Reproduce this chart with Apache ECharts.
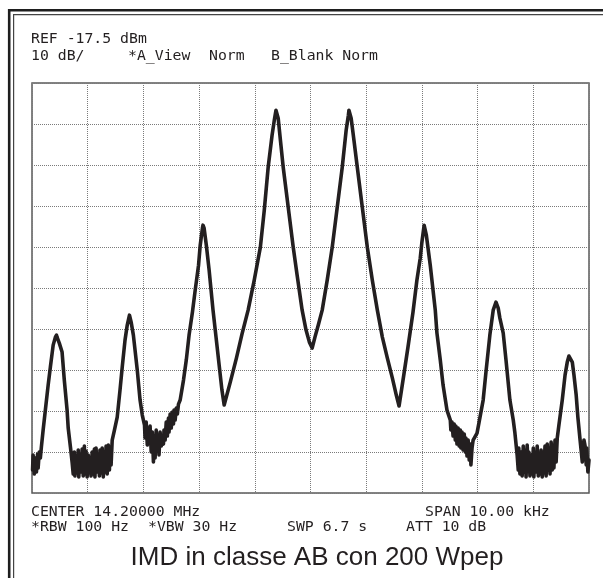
<!DOCTYPE html>
<html>
<head>
<meta charset="utf-8">
<script src="https://cdn.jsdelivr.net/npm/echarts@6/dist/echarts.min.js"></script>
<style>
  html, body { margin: 0; padding: 0; background: #fff; }
  #chart { width: 603px; height: 578px; }
</style>
</head>
<body>
<div id="chart"></div>
<script>
// analyzer settings shown on screen
var refLevel = 'REF -17.5 dBm';
var scaleText = ['10 dB/', '*A_View', 'Norm', 'B_Blank Norm'];
var footerLine1 = ['CENTER 14.20000 MHz', 'SPAN 10.00 kHz'];
var footerLine2 = ['*RBW 100 Hz', '*VBW 30 Hz', 'SWP 6.7 s', 'ATT 10 dB'];
var caption = 'IMD in classe AB con 200 Wpep';

// trace: offset from center (kHz) and level relative to REF (dB)
var traceKHz = [
  -4.99, -4.98, -4.96, -4.94, -4.92, -4.90, -4.89, -4.87, -4.85, -4.83,
  -4.80, -4.76, -4.71, -4.67, -4.62, -4.58, -4.56, -4.55, -4.51, -4.46,
  -4.42, -4.37, -4.35, -4.31,
  -4.28, -4.26, -4.24, -4.23, -4.21, -4.19, -4.17, -4.16, -4.14, -4.12,
  -4.10, -4.08, -4.06, -4.05, -4.03, -4.01, -3.99, -3.97, -3.96, -3.94,
  -3.92, -3.90, -3.88, -3.87, -3.85, -3.83, -3.81, -3.79, -3.78, -3.76,
  -3.74, -3.72, -3.70, -3.69, -3.67, -3.65, -3.63, -3.61, -3.60, -3.58, -3.56,
  -3.52, -3.47, -3.42, -3.38, -3.33, -3.29, -3.25, -3.22, -3.18, -3.15,
  -3.11, -3.06, -3.02, -2.98,
  -2.97, -2.95, -2.93, -2.91, -2.90, -2.88, -2.86, -2.84, -2.82, -2.81,
  -2.79, -2.77, -2.75, -2.73, -2.72, -2.70, -2.68, -2.66, -2.64,
  -2.63, -2.61, -2.59, -2.57, -2.55, -2.54, -2.52, -2.50, -2.48, -2.46,
  -2.45, -2.43, -2.41, -2.39, -2.37, -2.34, -2.28, -2.23, -2.18, -2.12,
  -2.07, -2.01, -1.98, -1.94, -1.93, -1.91, -1.87, -1.82, -1.75, -1.69,
  -1.64, -1.59, -1.55,
  -1.44, -1.33, -1.23, -1.12, -1.01, -0.90, -0.83, -0.76, -0.69, -0.65,
  -0.62, -0.58, -0.54, -0.49, -0.40, -0.31, -0.24, -0.15, -0.08, -0.02,
  0.03, 0.08, 0.14, 0.21, 0.30, 0.39, 0.48, 0.57, 0.64, 0.68,
  0.69, 0.73, 0.78, 0.84, 0.93, 1.02, 1.11, 1.20, 1.29, 1.38,
  1.47, 1.54, 1.59, 1.68, 1.75, 1.84, 1.91, 1.97, 2.00, 2.04,
  2.08, 2.15, 2.24, 2.27, 2.33, 2.38, 2.45, 2.51,
  2.52, 2.54, 2.56, 2.58, 2.60, 2.61, 2.63, 2.65, 2.67, 2.69,
  2.70, 2.72, 2.74, 2.76, 2.78, 2.79, 2.81, 2.83, 2.85, 2.87,
  2.88, 2.90, 2.92,
  2.95, 2.99, 3.04, 3.10, 3.15, 3.22, 3.28, 3.33, 3.37, 3.40,
  3.46, 3.51, 3.58, 3.64, 3.67,
  3.71, 3.73, 3.74, 3.76, 3.78, 3.80, 3.82, 3.83, 3.85, 3.87,
  3.89, 3.91, 3.92, 3.94, 3.96, 3.98, 4.00, 4.01, 4.03, 4.05,
  4.07, 4.09, 4.10, 4.12, 4.14, 4.16, 4.18, 4.19, 4.21, 4.23,
  4.25, 4.27, 4.28, 4.30, 4.32, 4.34, 4.36, 4.37, 4.39, 4.41, 4.43,
  4.46, 4.52, 4.57, 4.61, 4.64, 4.66, 4.70, 4.73, 4.77, 4.80,
  4.84, 4.88, 4.89, 4.91, 4.93, 4.95, 4.96, 4.98, 5.00
];
var traceDb = [
  -94.39, -90.74, -95.37, -91.47, -94.88, -90.49, -93.91, -90.01, -91.47, -88.55,
  -84.64, -79.77, -73.68, -69.29, -63.93, -61.98, -61.49, -61.98, -63.44, -65.63,
  -72.46, -79.77, -84.16, -88.79,
  -92.44, -95.37, -90.01, -95.86, -90.98, -95.12, -89.52, -96.10, -90.74, -94.88,
  -89.27, -95.86, -88.55, -95.37, -89.76, -96.10, -90.74, -94.39, -91.96, -95.86,
  -90.01, -95.37, -89.27, -96.10, -89.03, -94.88, -90.74, -95.86, -89.52, -95.12,
  -89.03, -96.10, -90.01, -94.88, -88.55, -95.37, -88.30, -94.39, -88.79, -93.17, -87.08,
  -84.64, -81.48, -74.90, -69.29, -62.71, -59.05, -56.62, -58.32, -61.49, -65.15,
  -70.02, -77.33, -80.99, -83.43,
  -86.59, -82.69, -88.30, -84.16, -87.57, -83.67, -90.01, -85.13, -92.44, -86.11,
  -91.47, -84.64, -89.03, -86.11, -90.74, -85.13, -88.55, -87.08, -88.06,
  -84.64, -87.08, -82.69, -86.11, -81.72, -85.13, -80.74, -84.16, -80.26, -83.18,
  -79.77, -82.21, -79.28, -80.74, -78.31, -77.33, -72.46, -67.58, -61.49, -55.89,
  -50.52, -44.43, -39.56, -35.41, -34.68, -35.41, -39.56, -45.65, -55.40, -62.71,
  -68.80, -74.90, -78.55,
  -72.95, -67.10, -61.25, -55.40, -48.09, -40.04, -31.03, -20.55, -12.75, -9.09,
  -6.65, -8.60, -13.97, -20.55, -30.29, -40.04, -46.87, -55.40, -60.27, -63.20,
  -64.66, -61.98, -59.05, -55.40, -48.09, -40.04, -30.29, -20.55, -11.53, -7.87,
  -6.65, -8.60, -13.97, -20.55, -30.29, -40.04, -48.09, -55.40, -61.98, -67.10,
  -71.97, -76.11, -78.79, -70.76, -64.42, -55.89, -48.09, -42.72, -38.82, -34.68,
  -37.12, -44.43, -55.40, -61.00, -67.58, -73.68, -79.77, -82.21,
  -84.64, -82.69, -86.11, -83.18, -87.08, -83.67, -88.06, -84.16, -88.55, -84.64,
  -89.03, -85.13, -89.52, -85.62, -90.01, -86.59, -90.98, -87.08, -91.96, -88.06,
  -93.17, -89.03, -87.08,
  -87.08, -85.38, -81.72, -77.33, -70.51, -61.49, -55.40, -53.45, -54.91, -57.35,
  -61.00, -67.58, -77.33, -82.21, -85.38,
  -90.74, -94.39, -89.03, -95.37, -90.01, -95.86, -88.55, -94.88, -89.52, -96.10,
  -88.30, -94.39, -90.01, -95.86, -90.74, -95.37, -89.03, -96.10, -90.01, -94.88,
  -88.55, -95.86, -91.47, -95.37, -89.52, -96.10, -90.01, -95.12, -88.55, -95.86,
  -88.06, -94.39, -89.03, -95.37, -87.57, -94.39, -88.30, -93.91, -87.08, -92.44, -86.59,
  -83.43, -77.33, -71.24, -68.07, -66.61, -66.37, -68.07, -71.24, -76.11, -81.48,
  -87.08, -92.44, -89.52, -87.08, -88.55, -93.17, -89.03, -94.88, -91.96
];

var chart = echarts.init(document.getElementById('chart'));

var points = traceKHz.map(function (f, i) { return [f, traceDb[i]]; });

var monoFont = '14.8px "DejaVu Sans Mono", monospace';
var ink = '#231f20';

// y is the top of the text box
function label(text, x, y, font) {
  return {
    type: 'text',
    x: x,
    y: y,
    style: { text: text, font: font || monoFont, fill: ink, verticalAlign: 'top' },
    silent: true
  };
}

var gridDots = { color: '#7a7a7a', width: 1, type: [1, 1] };

var option = {
  backgroundColor: '#fff',
  animation: false,
  grid: {
    left: 32,
    top: 83,
    width: 557,
    height: 410,
    show: true,
    borderColor: '#5a5a5a',
    borderWidth: 1.5,
    backgroundColor: 'transparent'
  },
  xAxis: {
    type: 'value',
    min: -5,
    max: 5,
    interval: 1,
    axisLine: { show: false },
    axisTick: { show: false },
    axisLabel: { show: false },
    splitLine: { show: true, lineStyle: gridDots }
  },
  yAxis: {
    type: 'value',
    min: -100,
    max: 0,
    interval: 10,
    axisLine: { show: false },
    axisTick: { show: false },
    axisLabel: { show: false },
    splitLine: { show: true, lineStyle: gridDots }
  },
  series: [{
    type: 'line',
    data: points,
    showSymbol: false,
    clip: true,
    lineStyle: { color: ink, width: 3.6, cap: 'round', join: 'round' }
  }],
  graphic: [
    // double frame around the screen
    { type: 'rect', shape: { x: 9.2, y: 10.3, width: 700, height: 700 },
      style: { fill: 'none', stroke: '#1e1e1e', lineWidth: 2.6 }, silent: true },
    { type: 'rect', shape: { x: 13.6, y: 14.7, width: 700, height: 700 },
      style: { fill: 'none', stroke: '#444', lineWidth: 1.2 }, silent: true },
    label(refLevel, 31, 32),
    label(scaleText[0], 31, 49),
    label(scaleText[1], 128, 49),
    label(scaleText[2], 209, 49),
    label(scaleText[3], 271, 49),
    label(footerLine1[0], 31, 505),
    label(footerLine1[1], 425, 505),
    label(footerLine2[0], 31, 520),
    label(footerLine2[1], 148, 520),
    label(footerLine2[2], 287, 520),
    label(footerLine2[3], 406, 520),
    {
      type: 'text',
      x: 317,
      y: 545,
      style: { text: caption, font: '26px "Liberation Sans", Arial, sans-serif', fill: ink,
        align: 'center', verticalAlign: 'top' },
      silent: true
    }
  ]
};

chart.setOption(option);
window.onresize = function () { chart.resize(); };
</script>
</body>
</html>
